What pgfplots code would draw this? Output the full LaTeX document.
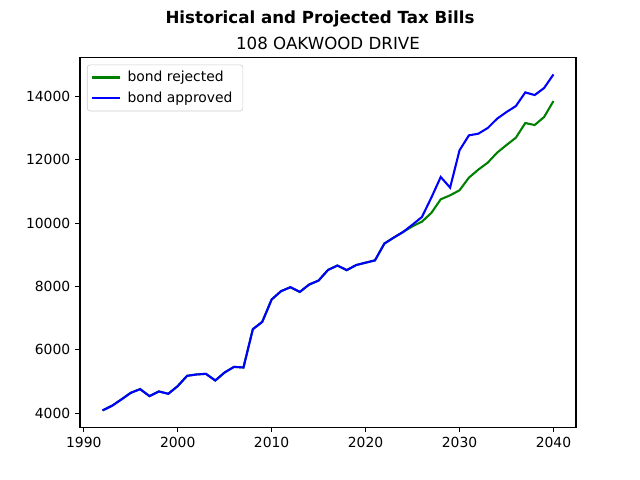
\documentclass[border=0pt]{standalone}
\usepackage{fontspec}
\setmainfont{DejaVu Sans}
\usepackage{pgfplots}
\usepackage{pgfplotstable}
\pgfplotsset{compat=1.18}

\pgfplotstableread{
year rejected approved
1992 4085 4085
1993 4230 4230
1994 4430 4430
1995 4640 4640
1996 4757 4757
1997 4536 4536
1998 4684 4684
1999 4610 4610
2000 4852 4852
2001 5177 5177
2002 5220 5220
2003 5240 5240
2004 5030 5030
2005 5284 5284
2006 5460 5460
2007 5440 5440
2008 6650 6650
2009 6880 6880
2010 7587 7587
2011 7850 7850
2012 7975 7975
2013 7827 7827
2014 8060 8060
2015 8186 8186
2016 8520 8520
2017 8659 8659
2018 8515 8515
2019 8675 8675
2020 8750 8750
2021 8822 8822
2022 9353 9353
2023 9542 9542
2024 9720 9720
2025 9899 9952
2026 10046 10193
2027 10320 10803
2028 10751 11455
2029 10877 11119
2030 11035 12297
2031 11434 12770
2032 11687 12822
2033 11907 13001
2034 12223 13296
2035 12465 13506
2036 12696 13695
2037 13159 14126
2038 13096 14042
2039 13348 14263
2040 13853 14694
}\taxdata

\definecolor{mplgreen}{RGB}{0,128,0}
\definecolor{mplblue}{RGB}{0,0,255}

\begin{document}
\begin{tikzpicture}
\path[use as bounding box] (0,0) rectangle (460.8pt,345.6pt);
\begin{axis}[
    at={(57.6pt,38.016pt)}, anchor=south west,
    scale only axis,
    width=357.12pt, height=266.11pt,
    xmin=1989.6, xmax=2042.4,
    ymin=3555, ymax=15225,
    xtick={1990,2000,...,2040},
    ytick={4000,6000,...,14000},
    scaled ticks=false,
    xtick pos=left, ytick pos=left,
    tick align=outside,
    major tick length=3.5pt,
    tick style={black, line width=0.8pt},
    axis line style={line width=0.8pt},
    /pgf/number format/.cd, fixed, 1000 sep={}, assume math mode=true,
    /pgfplots/.cd,
    ticklabel style={font=\fontsize{10}{12}\selectfont},
    legend style={at={(0.014,0.981)}, anchor=north west,
        draw=black!20, rounded corners=2pt, fill=white,
        font=\fontsize{10}{12}\selectfont, row sep=2pt,
        inner xsep=3pt, inner ysep=2.5pt,
        nodes={inner xsep=4.5pt}},
    legend cell align=left,
    legend image code/.code={\draw[#1] (0pt,0pt) -- (20pt,0pt);},
]
\addplot[mplgreen, line width=1.5pt] table[x=year, y=rejected] {\taxdata};
\addplot[mplblue, line width=1.5pt] table[x=year, y=approved] {\taxdata};
\legend{bond rejected, bond approved}
\end{axis}
\node[anchor=north, font=\fontsize{12}{14}\selectfont\bfseries] at (230.4pt,341.5pt) {Historical and Projected Tax Bills};
\node[anchor=base, font=\fontsize{12}{14}\selectfont] at (236.16pt,310.1pt) {108 OAKWOOD DRIVE};
\end{tikzpicture}
\end{document}
